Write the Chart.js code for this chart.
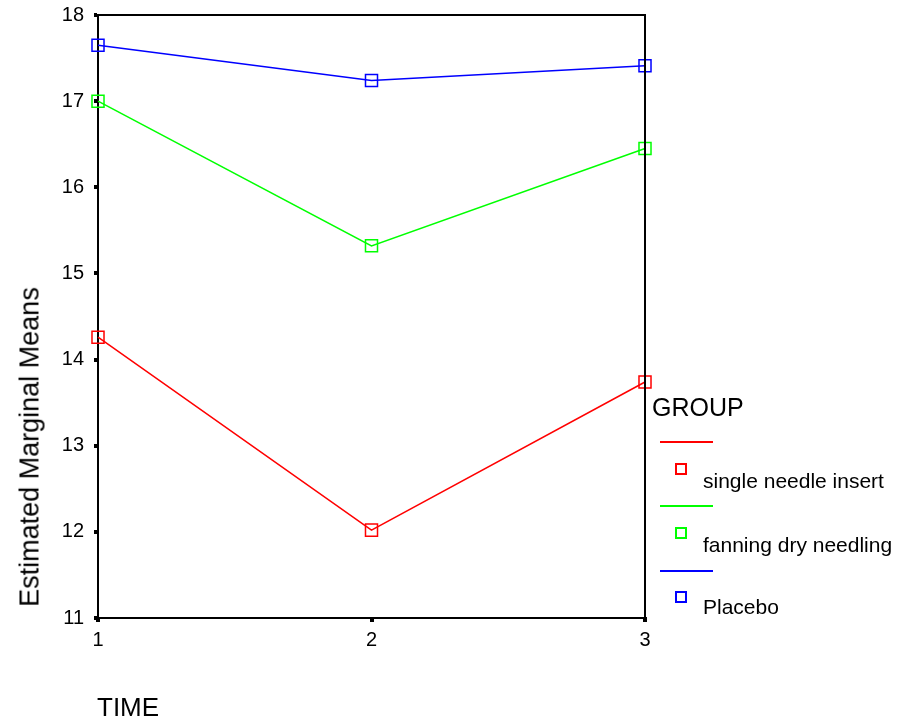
<!DOCTYPE html>
<html>
<head>
<meta charset="utf-8">
<script src="https://cdn.jsdelivr.net/npm/chart.js@4/dist/chart.umd.min.js"></script>
<style>
  body { margin: 0; background: #fff; font-family: "Liberation Sans", Arial, sans-serif; }
  #wrap { position: relative; width: 903px; height: 723px; }
  canvas { position: absolute; left: 0; top: 0; }
  .txt { position: absolute; color: #000; white-space: nowrap; }
  #ytitle { left: 30px; top: 447px; font-size: 27px; transform: translate(-50%, -50%) rotate(-90deg); }
  #xtitle { left: 97px; top: 692px; font-size: 26px; }
  #gtitle { left: 652px; top: 393px; font-size: 25px; }
  .lg-line { position: absolute; left: 660px; width: 53px; height: 2px; }
  .lg-box { position: absolute; left: 675px; width: 8px; height: 8px; }
  .lg-label { position: absolute; left: 703px; font-size: 21px; }
</style>
</head>
<body>
<div id="wrap">
  <canvas id="chart" width="903" height="723"></canvas>
  <div class="txt" id="ytitle">Estimated Marginal Means</div>
  <div class="txt" id="xtitle">TIME</div>
  <div class="txt" id="gtitle">GROUP</div>
  <div id="legend"></div>
</div>
<script>
// ==========================================
// DATA
// ==========================================
const timeLabels = ['1', '2', '3'];
const groupNames = ['single needle insert', 'fanning dry needling', 'Placebo'];
const groupColors = ['#ff0000', '#00ff00', '#0000ff'];

const singleNeedle = [14.26, 12.02, 13.74];
const fanningDry = [17.0, 15.32, 16.45];
const placebo = [17.65, 17.24, 17.41];

const yMin = 11;
const yMax = 18;

// ==========================================
// CHART
// ==========================================
const seriesValues = [singleNeedle, fanningDry, placebo];

const datasets = groupNames.map((name, i) => ({
    label: name,
    data: seriesValues[i],
    borderColor: groupColors[i],
    backgroundColor: 'rgba(0,0,0,0)',
    borderWidth: 1.5,
    pointStyle: 'rect',
    pointRadius: 8.5,
    pointBorderWidth: 1.5,
    pointBackgroundColor: 'rgba(0,0,0,0)',
    pointBorderColor: groupColors[i],
    tension: 0
}));

// box lines on top and right of plot area
const frameBox = {
    id: 'frameBox',
    afterDraw(chart) {
        const a = chart.chartArea;
        const c = chart.ctx;
        c.save();
        c.strokeStyle = '#000';
        c.lineWidth = 2;
        c.beginPath();
        c.moveTo(a.left, a.top);
        c.lineTo(a.right, a.top);
        c.lineTo(a.right, a.bottom);
        c.stroke();
        c.restore();
    }
};

const ctx = document.getElementById('chart').getContext('2d');
const chart = new Chart(ctx, {
    type: 'line',
    data: { labels: timeLabels, datasets: datasets },
    options: {
        responsive: false,
        animation: false,
        layout: { padding: { top: 15, right: 258, bottom: 0, left: 0 } },
        plugins: {
            legend: { display: false },
            tooltip: { enabled: false }
        },
        scales: {
            x: {
                offset: false,
                afterFit(scale) {
                    scale.height = 105;
                    scale.paddingLeft = 0;
                    scale.paddingRight = 0;
                },
                border: { display: true, color: '#000', width: 2 },
                grid: { drawOnChartArea: false, drawTicks: true, tickLength: 4, lineWidth: 4, color: '#000' },
                ticks: { color: '#000', padding: 6, font: { family: 'Liberation Sans', size: 20 }, maxRotation: 0 }
            },
            y: {
                min: yMin,
                max: yMax,
                afterFit(scale) {
                    scale.width = 98;
                    scale.paddingTop = 0;
                    scale.paddingBottom = 0;
                },
                border: { display: true, color: '#000', width: 2 },
                grid: { drawOnChartArea: false, drawTicks: true, tickLength: 4, lineWidth: 4, color: '#000' },
                ticks: { stepSize: 1, color: '#000', padding: 10, font: { family: 'Liberation Sans', size: 20 } }
            }
        }
    },
    plugins: [frameBox]
});

// ==========================================
// LEGEND (HTML)
// ==========================================
const legendEl = document.getElementById('legend');
const lineTops = [441, 505, 570];
const boxTops = [463, 527, 591];
const labelTops = [469, 533, 595];
groupNames.forEach((name, i) => {
    const line = document.createElement('div');
    line.className = 'lg-line';
    line.style.top = lineTops[i] + 'px';
    line.style.background = groupColors[i];
    legendEl.appendChild(line);

    const box = document.createElement('div');
    box.className = 'lg-box';
    box.style.top = boxTops[i] + 'px';
    box.style.border = '2px solid ' + groupColors[i];
    legendEl.appendChild(box);

    const lbl = document.createElement('div');
    lbl.className = 'txt lg-label';
    lbl.style.top = labelTops[i] + 'px';
    lbl.textContent = name;
    legendEl.appendChild(lbl);
});
</script>
</body>
</html>
